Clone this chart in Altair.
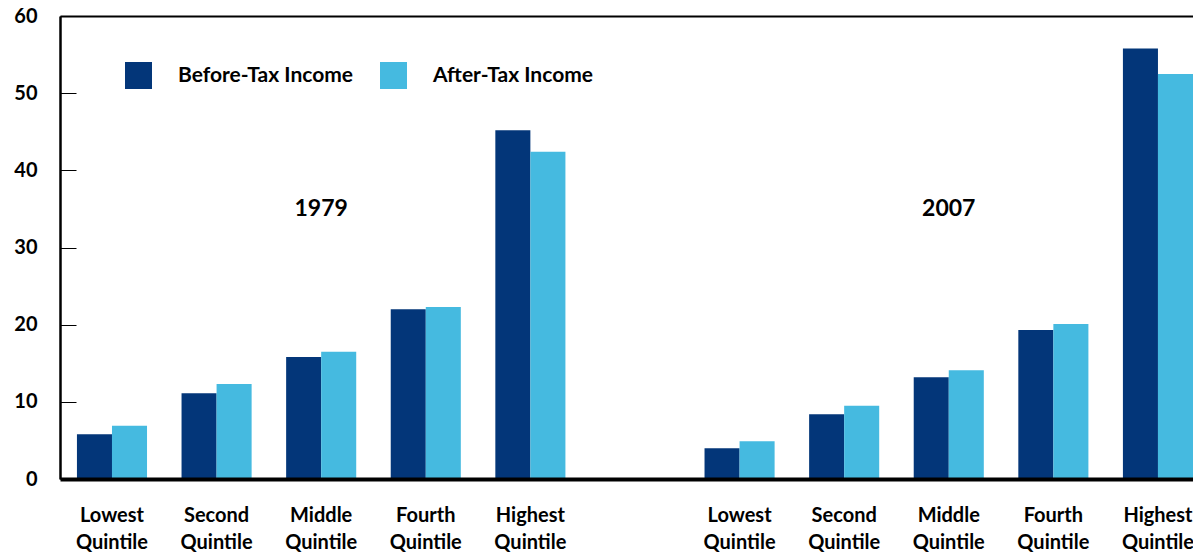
import altair as alt
import pandas as pd

quintiles = ["Lowest Quintile", "Second Quintile", "Middle Quintile", "Fourth Quintile", "Highest Quintile"]
years = ["1979", "2007"]
series = ["Before-Tax Income", "After-Tax Income"]
colors = ["#033679", "#45bae0"]

before_1979 = [5.8, 11.1, 15.8, 22.0, 45.2]
after_1979 = [6.9, 12.3, 16.5, 22.3, 42.4]
before_2007 = [4.0, 8.4, 13.2, 19.3, 55.8]
after_2007 = [4.9, 9.5, 14.1, 20.1, 52.5]

y_ticks = [0, 10, 20, 30, 40, 50, 60]
year_label_quintile = "Middle Quintile"
year_label_value = 35

values = {
    ("1979", series[0]): before_1979,
    ("1979", series[1]): after_1979,
    ("2007", series[0]): before_2007,
    ("2007", series[1]): after_2007,
}

rows = []
for (yr, s), vals in values.items():
    for q, v in zip(quintiles, vals):
        rows.append({"slot": f"{yr}|{q}", "series": s, "value": v})
df = pd.DataFrame(rows)

slots = [f"1979|{q}" for q in quintiles] + ["gap"] + [f"2007|{q}" for q in quintiles]

labels_df = pd.DataFrame(
    [{"slot": f"{yr}|{year_label_quintile}", "year": yr, "value": year_label_value} for yr in years]
)

FONT = "Lato"

x_scale = alt.Scale(domain=slots, paddingInner=0.33, paddingOuter=0.081, align=1, round=False)
y_scale = alt.Scale(domain=[0, 60], nice=False)

bars = alt.Chart(df).mark_bar().encode(
    x=alt.X(
        "slot:N",
        scale=x_scale,
        title=None,
        axis=alt.Axis(
            orient="bottom",
            domain=True,
            domainColor="black",
            domainWidth=4,
            ticks=False,
            labelAngle=0,
            labelPadding=26,
            labelFont=FONT,
            labelFontWeight="bold",
            labelFontSize=20,
            labelLineHeight=27,
            labelColor="black",
            labelBaseline="top",
            labelExpr="indexof(datum.value, '|') < 0 ? '' : split(split(datum.value, '|')[1], ' ')",
            zindex=1,
        ),
    ),
    xOffset=alt.XOffset("series:N", scale=alt.Scale(domain=series, round=False), sort=series),
    y=alt.Y(
        "value:Q",
        scale=y_scale,
        title=None,
        axis=alt.Axis(
            orient="left",
            values=y_ticks,
            domain=True,
            domainColor="black",
            domainWidth=2.5,
            ticks=False,
            grid=False,
            labelPadding=23,
            labelFont=FONT,
            labelFontWeight="bold",
            labelFontSize=20,
            labelColor="black",
            zindex=1,
        ),
    ),
    color=alt.Color(
        "series:N",
        scale=alt.Scale(domain=series, range=colors),
        legend=alt.Legend(
            title=None,
            orient="none",
            legendX=65,
            legendY=46,
            direction="horizontal",
            symbolType="square",
            symbolSize=729,
            symbolStrokeWidth=0,
            symbolOpacity=1,
            labelOffset=26,
            columnPadding=26,
            labelFont=FONT,
            labelFontWeight="bold",
            labelFontSize=21,
            labelColor="black",
            labelLimit=400,
            padding=0,
        ),
    ),
)

year_text = alt.Chart(labels_df).mark_text(
    font=FONT, fontWeight="bold", fontSize=23, color="black", align="center", baseline="middle"
).encode(
    x=alt.X(
        "slot:N",
        scale=x_scale,
        title=None,
        axis=alt.Axis(
            orient="top",
            domain=True,
            domainColor="black",
            domainWidth=2,
            ticks=False,
            labels=False,
            grid=False,
            zindex=1,
        ),
    ),
    y=alt.Y(
        "value:Q",
        scale=y_scale,
        axis=alt.Axis(
            orient="left",
            offset=-16,
            values=y_ticks,
            domain=False,
            labels=False,
            ticks=True,
            tickSize=16,
            tickColor="black",
            tickWidth=1,
            grid=False,
            title=None,
            zindex=1,
        ),
    ),
    text="year:N",
)

chart = (
    alt.layer(bars, year_text)
    .resolve_axis(y="independent", x="independent")
    .properties(
        width=1133,
        height=463,
        autosize=alt.AutoSizeParams(type="none"),
        padding={"left": 52, "top": 8, "right": 0, "bottom": 77},
        background="white",
    )
    .configure_view(stroke=None)
)

chart.save("out.html", embed_options={"renderer": "svg", "actions": False})
